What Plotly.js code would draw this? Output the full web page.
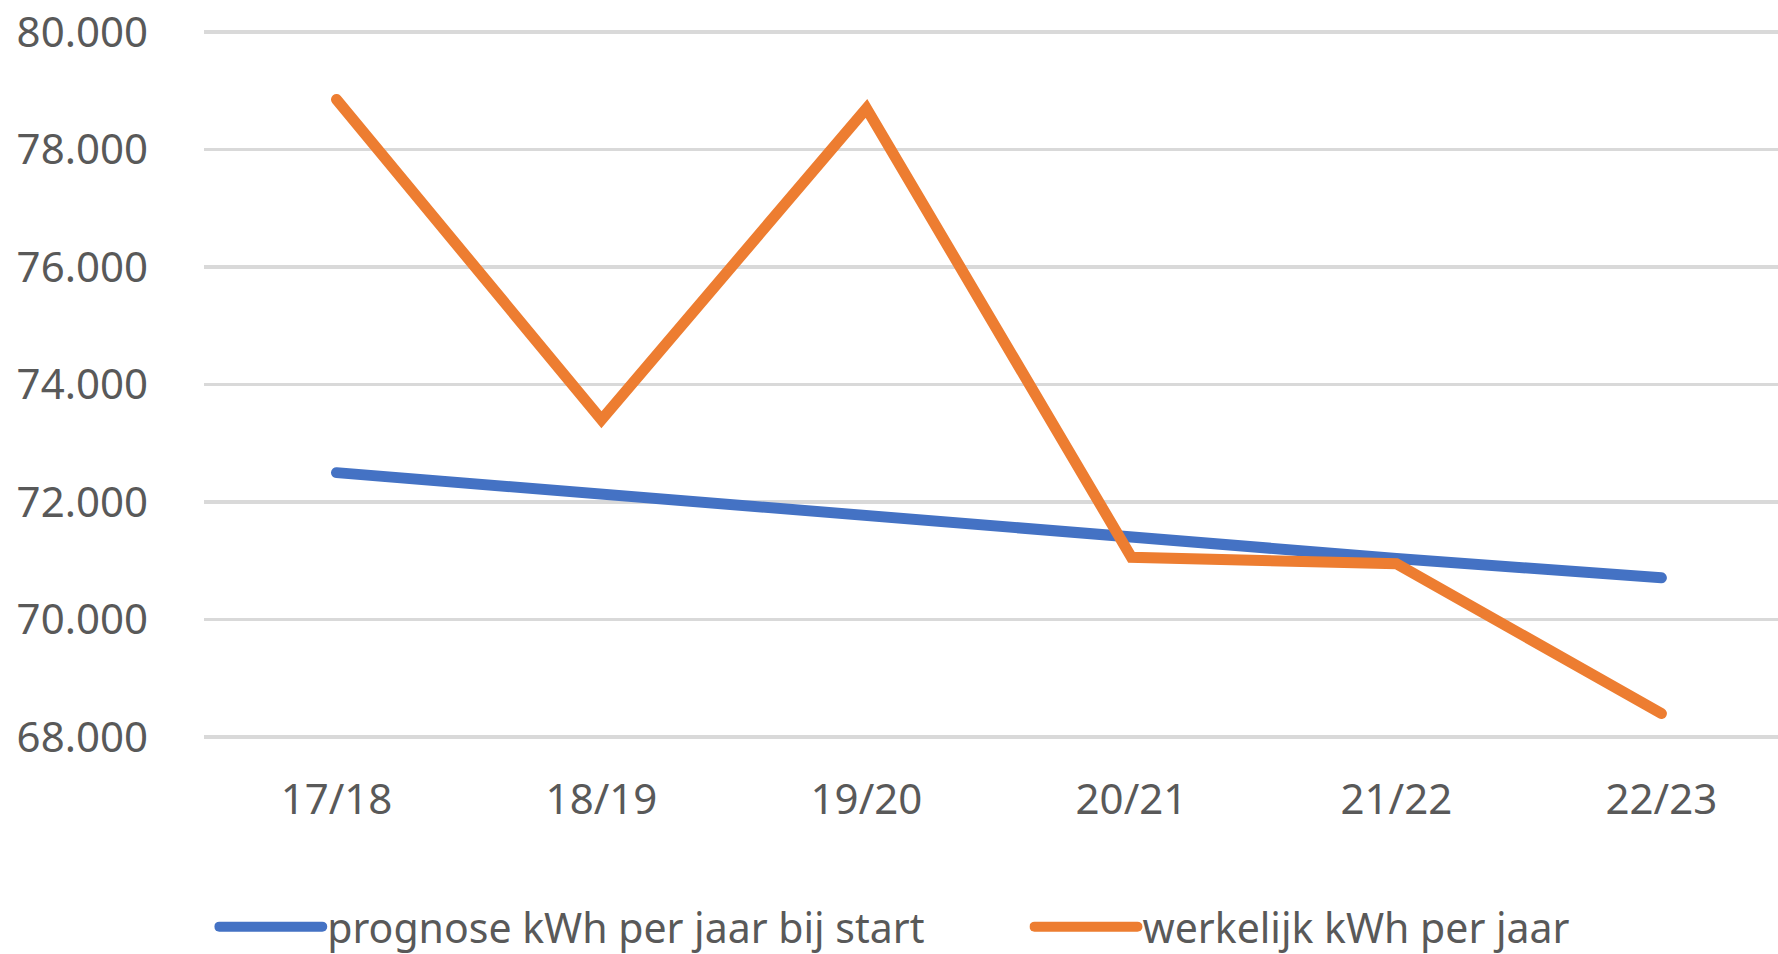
<!DOCTYPE html>
<html>
<head>
<meta charset="utf-8">
<script src="https://cdn.plot.ly/plotly-3.0.1.min.js"></script>
<style>
html,body{margin:0;padding:0;background:#fff;}
#chart{width:1778px;height:954px;}
.scatterlayer .js-line{stroke-linecap:round !important;}
.legendlines path{stroke-linecap:round !important;}
</style>
</head>
<body>
<div id="chart"></div>
<script>
var seasons = ["17/18", "18/19", "19/20", "20/21", "21/22", "22/23"];
var prognose = [72500, 72130, 71750, 71380, 71040, 70710];
var werkelijk = [78850, 73400, 78700, 71060, 70950, 68400];
var seriesNames = ["prognose kWh per jaar bij start", "werkelijk kWh per jaar"];
var yTicks = [68000, 70000, 72000, 74000, 76000, 78000, 80000];

var FONT = "Noto Sans, Open Sans, sans-serif";
var GREY = "#595959";

var traces = [
  {x: seasons, y: prognose, name: seriesNames[0], type: "scatter", mode: "lines",
   line: {color: "#4472C4", width: 11}, legend: "legend"},
  {x: seasons, y: werkelijk, name: seriesNames[1], type: "scatter", mode: "lines",
   line: {color: "#ED7D31", width: 11}, legend: "legend2"}
];

var legendBase = {
  orientation: "h", xref: "container", yref: "container",
  yanchor: "middle", xanchor: "left",
  font: {family: FONT, size: 41, color: GREY},
  bgcolor: "rgba(0,0,0,0)", borderwidth: 0, itemwidth: 103, itemclick: false
};

var layout = {
  width: 1778, height: 954,
  margin: {l: 204, r: 0, t: 29, b: 214},
  paper_bgcolor: "#fff", plot_bgcolor: "#fff",
  separators: ",.",
  showlegend: true,
  legend: Object.assign({}, legendBase, {x: 0.1205, y: 1 - 927/954}),
  legend2: Object.assign({}, legendBase, {x: 0.579, y: 1 - 927/954}),
  xaxis: {
    type: "category", range: [-0.5, 5.44], showgrid: false, zeroline: false,
    showline: false, ticks: "", ticklabelstandoff: 31,
    tickfont: {family: FONT, size: 42, color: GREY}
  },
  yaxis: {
    range: [67950, 80050], tickvals: yTicks, tickformat: ",d",
    showgrid: true, gridcolor: "#D9D9D9", gridwidth: 3.5,
    zeroline: false, showline: false, ticks: "", ticklabelstandoff: 55,
    tickfont: {family: FONT, size: 42, color: GREY}
  }
};

Plotly.newPlot("chart", traces, layout, {staticPlot: true, displayModeBar: false});
</script>
</body>
</html>
